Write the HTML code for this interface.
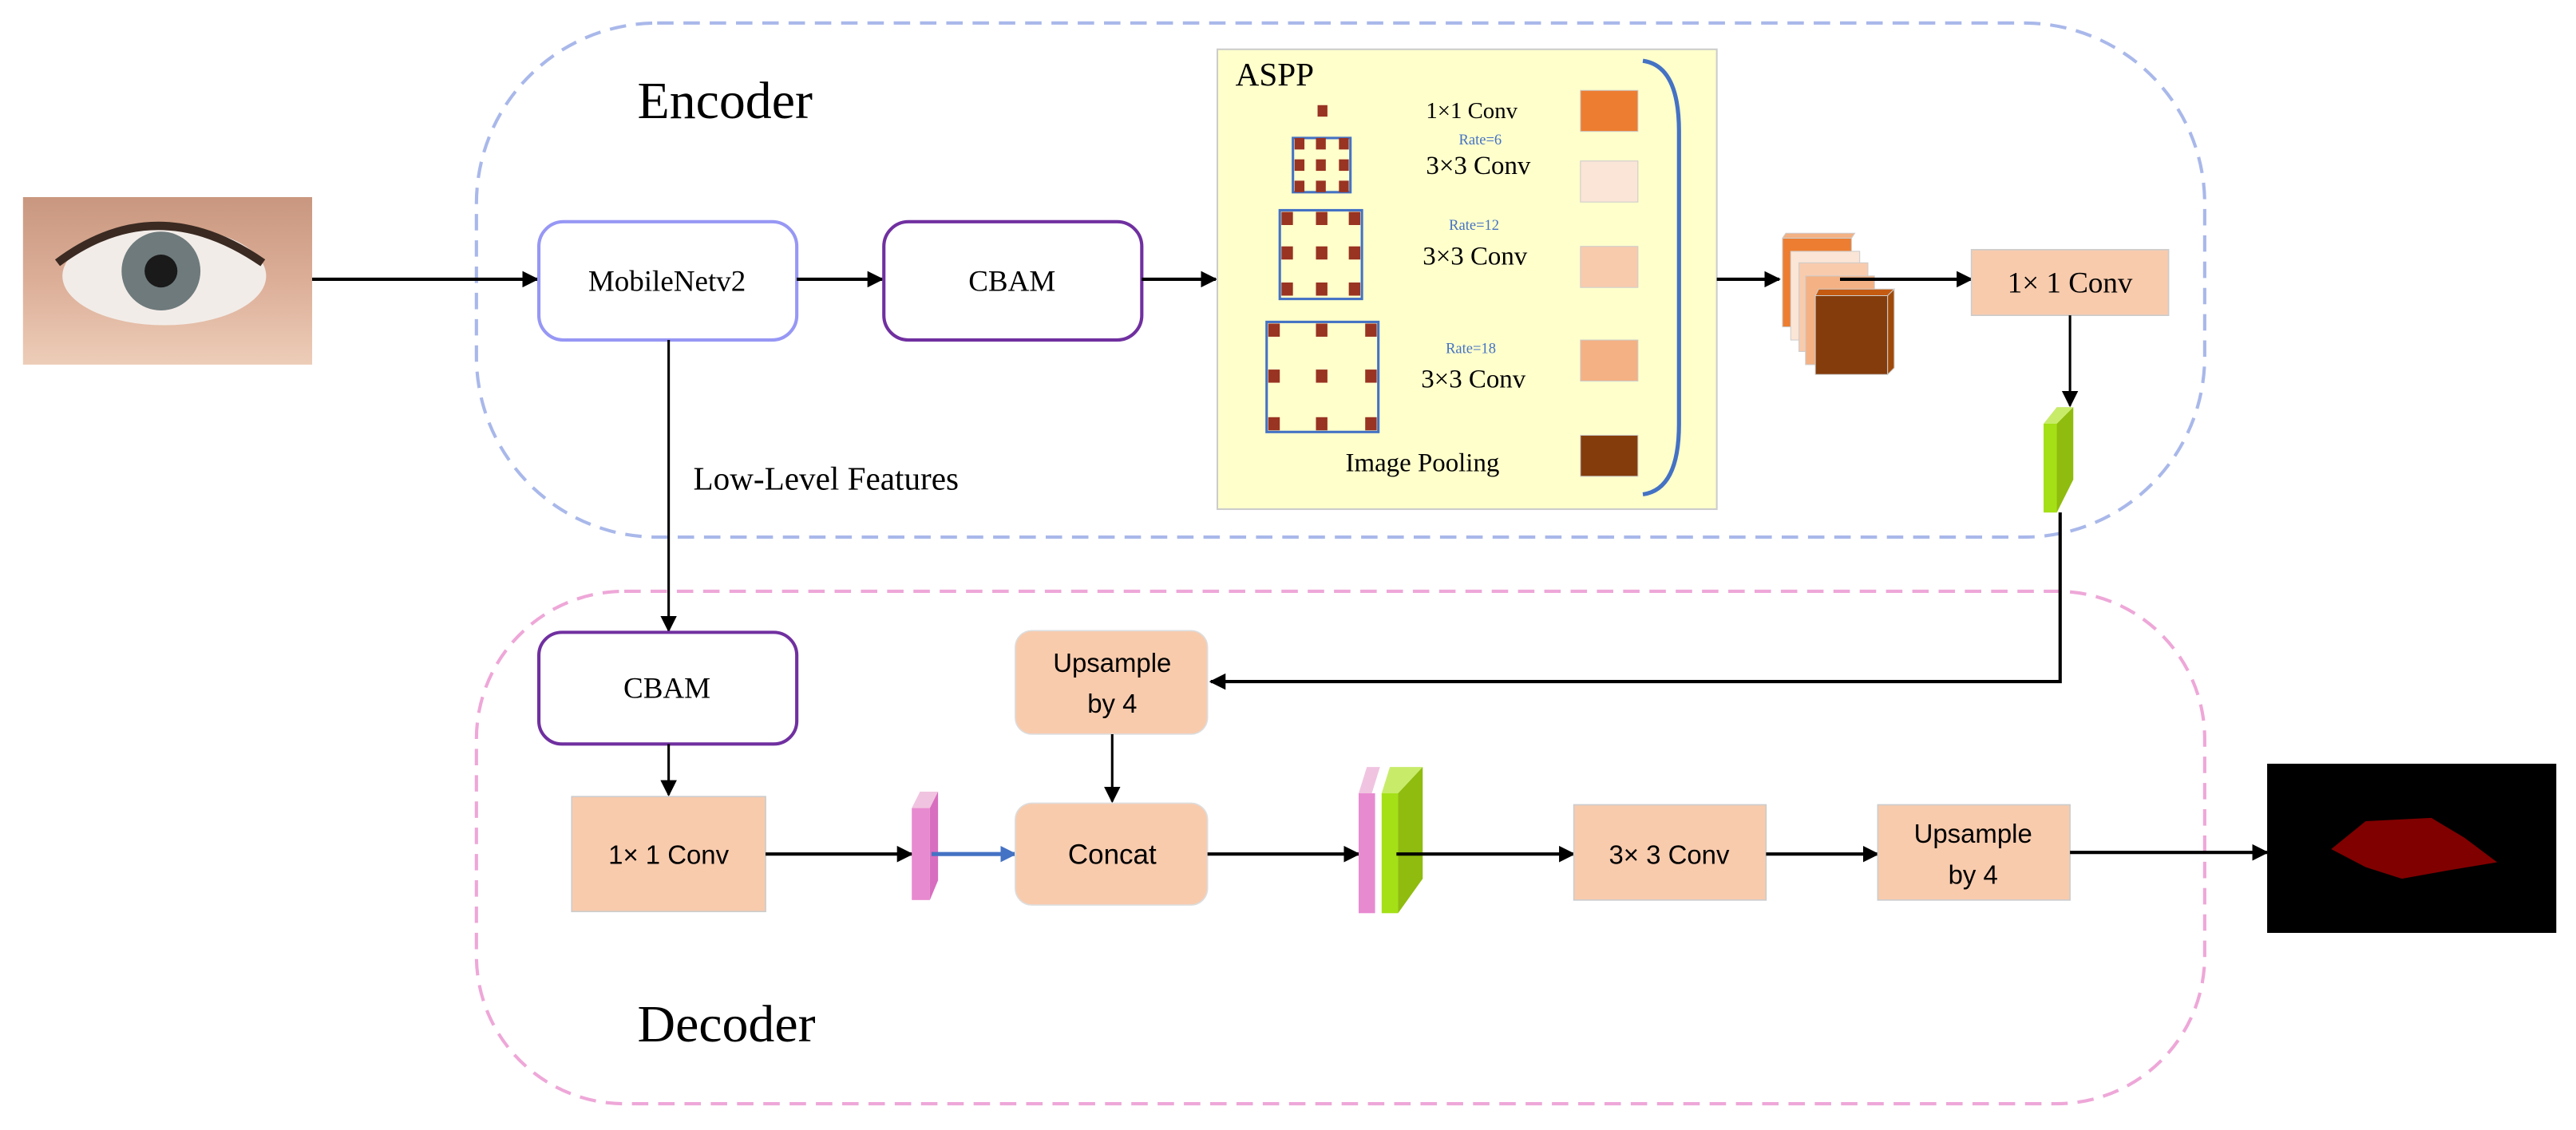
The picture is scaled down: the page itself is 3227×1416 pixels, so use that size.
<!DOCTYPE html>
<html><head><meta charset="utf-8"><style>
html,body{margin:0;padding:0;background:#fff;}
svg{display:block;}
.s{font-family:"Liberation Serif",serif;}
.a{font-family:"Liberation Sans",sans-serif;}
</style></head><body>
<svg width="3227" height="1416" viewBox="0 0 1568 688" xmlns="http://www.w3.org/2000/svg">
<defs>
<marker id="ar" markerWidth="10" markerHeight="10" refX="9" refY="5" orient="auto" markerUnits="userSpaceOnUse"><path d="M0,0 L10,5 L0,10 z" fill="#000"/></marker>
<marker id="ab" markerWidth="10" markerHeight="10" refX="9" refY="5" orient="auto" markerUnits="userSpaceOnUse"><path d="M0,0 L10,5 L0,10 z" fill="#4472c4"/></marker>
<linearGradient id="eye" x1="0" y1="0" x2="0" y2="1"><stop offset="0" stop-color="#c9977f"/><stop offset="0.5" stop-color="#dcae98"/><stop offset="1" stop-color="#edcdb8"/></linearGradient>
</defs>
<rect x="290" y="14" width="1052" height="313" rx="110" fill="none" stroke="#a9b8ea" stroke-width="2" stroke-dasharray="10,6"/>
<rect x="290" y="360" width="1052" height="312" rx="90" fill="none" stroke="#eea7d8" stroke-width="2" stroke-dasharray="10,6"/>
<text x="388" y="72" class="s" font-size="32">Encoder</text>
<text x="388" y="634" class="s" font-size="32">Decoder</text>
<rect x="14" y="120" width="176" height="102" fill="url(#eye)"/>
<ellipse cx="100" cy="168" rx="62" ry="30" fill="#f2ece8"/>
<circle cx="98" cy="165" r="24" fill="#6e7a7c"/>
<circle cx="98" cy="165" r="10" fill="#1a1a1a"/>
<path d="M35,160 Q95,115 160,160" stroke="#3a2a22" stroke-width="5" fill="none"/>
<line x1="190" y1="170" x2="327" y2="170" stroke="#000" stroke-width="2" marker-end="url(#ar)"/>
<rect x="328" y="135" width="157" height="72" rx="15" fill="#fff" stroke="#9797f5" stroke-width="2"/>
<text x="406" y="177" class="s" font-size="18" text-anchor="middle">MobileNetv2</text>
<line x1="485" y1="170" x2="537" y2="170" stroke="#000" stroke-width="2" marker-end="url(#ar)"/>
<rect x="538" y="135" width="157" height="72" rx="15" fill="#fff" stroke="#7030a0" stroke-width="2"/>
<text x="616" y="177" class="s" font-size="18" text-anchor="middle">CBAM</text>
<line x1="695" y1="170" x2="740" y2="170" stroke="#000" stroke-width="2" marker-end="url(#ar)"/>
<rect x="741" y="30" width="304" height="280" fill="#ffffcc" stroke="#ccc" stroke-width="1"/>
<text x="752" y="52" class="s" font-size="20">ASPP</text>
<path d="M1000,37 Q1022,40 1022,80 L1022,258 Q1022,298 1000,301" fill="none" stroke="#4472c4" stroke-width="2.5"/>
<rect x="962" y="55" width="35" height="25" fill="#ed7d31" stroke="#ccc" stroke-width="0.5"/>
<rect x="962" y="98" width="35" height="25" fill="#fbe5d6" stroke="#ccc" stroke-width="0.5"/>
<rect x="962" y="150" width="35" height="25" fill="#f8cbad" stroke="#ccc" stroke-width="0.5"/>
<rect x="962" y="207" width="35" height="25" fill="#f4b183" stroke="#ccc" stroke-width="0.5"/>
<rect x="962" y="265" width="35" height="25" fill="#843c0c" stroke="#ccc" stroke-width="0.5"/>
<g fill="#993322"><rect x="802" y="64" width="6" height="7"/></g>
<rect x="787" y="84" width="35" height="33" fill="none" stroke="#4472c4" stroke-width="1.5"/>
<g fill="#993322">
<rect x="788" y="84" width="6" height="7"/><rect x="801" y="84" width="6" height="7"/><rect x="815" y="84" width="6" height="7"/>
<rect x="788" y="97" width="6" height="7"/><rect x="801" y="97" width="6" height="7"/><rect x="815" y="97" width="6" height="7"/>
<rect x="788" y="110" width="6" height="7"/><rect x="801" y="110" width="6" height="7"/><rect x="815" y="110" width="6" height="7"/>
</g>
<rect x="779" y="128" width="50" height="54" fill="none" stroke="#4472c4" stroke-width="1.5"/>
<g fill="#993322">
<rect x="780" y="129" width="7" height="8"/><rect x="801" y="129" width="7" height="8"/><rect x="821" y="129" width="7" height="8"/>
<rect x="780" y="150" width="7" height="8"/><rect x="801" y="150" width="7" height="8"/><rect x="821" y="150" width="7" height="8"/>
<rect x="780" y="172" width="7" height="8"/><rect x="801" y="172" width="7" height="8"/><rect x="821" y="172" width="7" height="8"/>
</g>
<rect x="771" y="196" width="68" height="67" fill="none" stroke="#4472c4" stroke-width="1.5"/>
<g fill="#993322">
<rect x="772" y="197" width="7" height="8"/><rect x="801" y="197" width="7" height="8"/><rect x="831" y="197" width="7" height="8"/>
<rect x="772" y="225" width="7" height="8"/><rect x="801" y="225" width="7" height="8"/><rect x="831" y="225" width="7" height="8"/>
<rect x="772" y="254" width="7" height="8"/><rect x="801" y="254" width="7" height="8"/><rect x="831" y="254" width="7" height="8"/>
</g>
<g class="s">
<text x="868" y="72" font-size="14">1×1 Conv</text>
<text x="888" y="88" font-size="9" fill="#4472c4">Rate=6</text>
<text x="868" y="106" font-size="16">3×3 Conv</text>
<text x="882" y="140" font-size="9" fill="#4472c4">Rate=12</text>
<text x="866" y="161" font-size="16">3×3 Conv</text>
<text x="880" y="215" font-size="9" fill="#4472c4">Rate=18</text>
<text x="865" y="236" font-size="16">3×3 Conv</text>
<text x="819" y="287" font-size="16">Image Pooling</text>
</g>
<line x1="1045" y1="170" x2="1083" y2="170" stroke="#000" stroke-width="2" marker-end="url(#ar)"/>
<g stroke="#ccc" stroke-width="0.5">
<rect x="1085" y="145" width="42" height="54" fill="#ed7d31"/><path d="M1085,145 L1087,142 L1129,142 L1127,145z" fill="#f4b183"/>
<rect x="1090" y="153" width="42" height="54" fill="#fbe5d6"/>
<rect x="1095" y="160" width="42" height="54" fill="#f8cbad"/>
<rect x="1099" y="168" width="42" height="54" fill="#f4b183"/>
<rect x="1105" y="180" width="44" height="48" fill="#843c0c"/><path d="M1105,180 L1107,176 L1153,176 L1149,180z" fill="#c55a11"/><path d="M1149,180 L1153,176 L1153,224 L1149,228z" fill="#a04a0a"/>
</g>
<line x1="1120" y1="170" x2="1200" y2="170" stroke="#000" stroke-width="2" marker-end="url(#ar)"/>
<rect x="1200" y="152" width="120" height="40" fill="#f8cbad" stroke="#ccc" stroke-width="0.8"/>
<text x="1260" y="178" class="s" font-size="18" text-anchor="middle">1× 1 Conv</text>
<line x1="1260" y1="192" x2="1260" y2="247" stroke="#000" stroke-width="1.5" marker-end="url(#ar)"/>
<path d="M1244,258 L1244,312 L1252,312 L1262,292 L1262,248 L1252,248 z" fill="#8fbc0e"/>
<rect x="1244" y="258" width="8" height="54" fill="#a4e015"/>
<path d="M1244,258 L1252,248 L1262,248 L1252,258z" fill="#c8ec6a"/>
<polyline points="1254,312 1254,415 737,415" fill="none" stroke="#000" stroke-width="2" marker-end="url(#ar)"/>
<line x1="407" y1="207" x2="407" y2="384" stroke="#000" stroke-width="1.5" marker-end="url(#ar)"/>
<text x="422" y="298" class="s" font-size="20">Low-Level Features</text>
<rect x="328" y="385" width="157" height="68" rx="14" fill="#fff" stroke="#7030a0" stroke-width="2"/>
<text x="406" y="425" class="s" font-size="18" text-anchor="middle">CBAM</text>
<rect x="618" y="384" width="117" height="63" rx="10" fill="#f8cbad" stroke="#ddd" stroke-width="0.8"/>
<text x="677" y="409" class="a" font-size="16" text-anchor="middle">Upsample</text>
<text x="677" y="434" class="a" font-size="16" text-anchor="middle">by 4</text>
<line x1="407" y1="453" x2="407" y2="484" stroke="#000" stroke-width="1.5" marker-end="url(#ar)"/>
<rect x="348" y="485" width="118" height="70" fill="#f8cbad" stroke="#ccc" stroke-width="0.8"/>
<text x="407" y="526" class="a" font-size="16" text-anchor="middle">1× 1 Conv</text>
<line x1="466" y1="520" x2="555" y2="520" stroke="#000" stroke-width="2" marker-end="url(#ar)"/>
<path d="M555,492 L560,482 L571,482 L566,492z" fill="#f0c4e0"/>
<rect x="555" y="492" width="11" height="56" fill="#e88ad0"/>
<path d="M566,492 L571,482 L571,536 L566,548z" fill="#d86ec0"/>
<line x1="567" y1="520" x2="618" y2="520" stroke="#4472c4" stroke-width="2.5" marker-end="url(#ab)"/>
<line x1="677" y1="447" x2="677" y2="488" stroke="#000" stroke-width="1.5" marker-end="url(#ar)"/>
<rect x="618" y="489" width="117" height="62" rx="10" fill="#f8cbad" stroke="#ddd" stroke-width="0.8"/>
<text x="677" y="526" class="a" font-size="17" text-anchor="middle">Concat</text>
<line x1="735" y1="520" x2="827" y2="520" stroke="#000" stroke-width="2" marker-end="url(#ar)"/>
<path d="M827,483 L832,467 L840,467 L835,483z" fill="#f0c4e0"/>
<rect x="827" y="483" width="10" height="73" fill="#e88ad0"/>
<path d="M841,483 L846,467 L866,467 L851,483z" fill="#c8ec6a"/>
<rect x="841" y="483" width="10" height="73" fill="#a4e015"/>
<path d="M851,483 L866,467 L866,535 L851,556z" fill="#8fbc0e"/>
<line x1="850" y1="520" x2="958" y2="520" stroke="#000" stroke-width="2" marker-end="url(#ar)"/>
<rect x="958" y="490" width="117" height="58" fill="#f8cbad" stroke="#ccc" stroke-width="0.8"/>
<text x="1016" y="526" class="a" font-size="16" text-anchor="middle">3× 3 Conv</text>
<line x1="1075" y1="520" x2="1143" y2="520" stroke="#000" stroke-width="2" marker-end="url(#ar)"/>
<rect x="1143" y="490" width="117" height="58" fill="#f8cbad" stroke="#ccc" stroke-width="0.8"/>
<text x="1201" y="513" class="a" font-size="16" text-anchor="middle">Upsample</text>
<text x="1201" y="538" class="a" font-size="16" text-anchor="middle">by 4</text>
<line x1="1260" y1="519" x2="1380" y2="519" stroke="#000" stroke-width="2" marker-end="url(#ar)"/>
<rect x="1380" y="465" width="176" height="103" fill="#000"/>
<path d="M1419,517 L1440,500 L1480,498 L1500,510 L1520,525 L1490,530 L1462,535 L1440,528 z" fill="#800000"/>
</svg>
</body></html>
